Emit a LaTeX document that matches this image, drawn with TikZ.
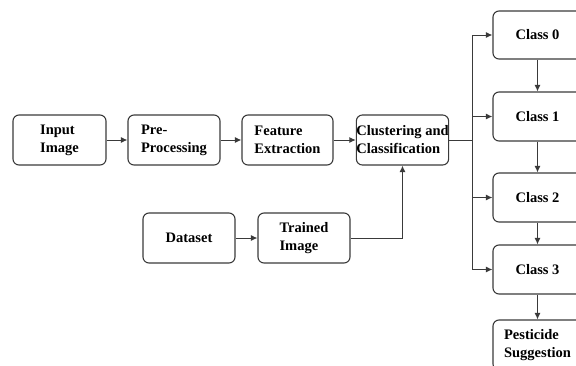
\documentclass[tikz,border=0pt]{standalone}
\usepackage{fontspec}
\setmainfont{Liberation Serif}
\usetikzlibrary{arrows.meta}
\definecolor{boxline}{HTML}{3A3A3A}
\definecolor{linkcol}{HTML}{3A3A3A}
\begin{document}
\begin{tikzpicture}[x=1pt,y=-1pt,
  box/.style={draw=boxline, line width=1.1pt, rounded corners=6pt, align=left,
    inner sep=0pt, minimum height=50pt, text=black,
    font=\bfseries\fontsize{14.5}{18}\selectfont},
  link/.style={draw=linkcol, line width=1pt},
  arr/.style={link, -{Latex[length=6.5pt,width=6pt]}}]
\useasboundingbox (0,0) rectangle (576,365);
\clip (0,0) rectangle (576,365);

% main pipeline
\node[box, minimum width=93pt] (inp)   at (59.5,140)  {Input\\Image};
\node[box, minimum width=92pt] (pre)   at (174,140)   {Pre-\\Processing};
\node[box, minimum width=91pt] (feat)  at (287.5,140) {Feature\\Extraction};
\node[box, minimum width=91pt] (clus)  at (402.5,140) {Clustering and\\Classification};

% training branch
\node[box, minimum width=92pt] (data)  at (189,238)   {Dataset};
\node[box, minimum width=92pt] (train) at (304,238)   {Trained\\Image};

% output classes
\node[box, minimum width=89pt, minimum height=48pt] (c0) at (537.5,35)    {Class 0};
\node[box, minimum width=89pt, minimum height=49pt] (c1) at (537.5,116.5) {Class 1};
\node[box, minimum width=89pt, minimum height=49pt] (c2) at (537.5,197.5) {Class 2};
\node[box, minimum width=89pt, minimum height=49pt] (c3) at (537.5,269.5) {Class 3};
\node[box, minimum width=89pt, minimum height=50pt] (pest) at (537.5,345) {Pesticide\\Suggestion};

\coordinate (bus) at (472,0);

% connectors
\draw[arr] (inp) -- (pre);
\draw[arr] (pre) -- (feat);
\draw[arr] (feat) -- (clus);
\draw[arr] (data) -- (train);
\draw[arr] (train.east) -| (clus.south);

\draw[link] (clus.east) -- (clus.east -| bus);
\draw[link] (c0.west -| bus) -- (c3.west -| bus);
\draw[arr] (c0.west -| bus) -- (c0.west);
\draw[arr] (c1.west -| bus) -- (c1.west);
\draw[arr] (c2.west -| bus) -- (c2.west);
\draw[arr] (c3.west -| bus) -- (c3.west);

\draw[arr] (c0) -- (c1);
\draw[arr] (c1) -- (c2);
\draw[arr] (c2) -- (c3);
\draw[arr] (c3) -- (pest);
\end{tikzpicture}
\end{document}
